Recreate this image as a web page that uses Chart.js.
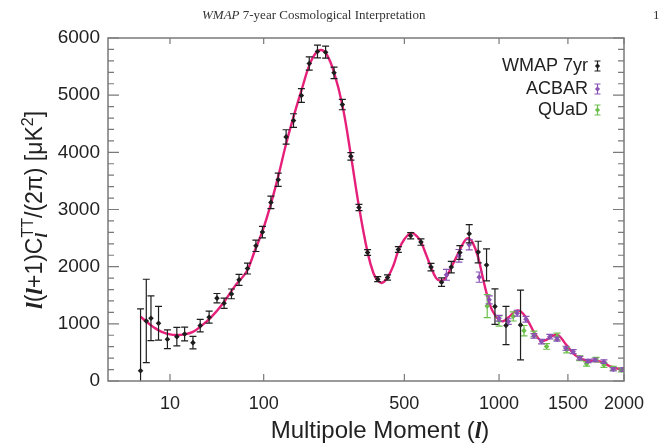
<!DOCTYPE html>
<html>
<head>
<meta charset="utf-8">
<script src="https://cdn.jsdelivr.net/npm/chart.js@4.4.0/dist/chart.umd.min.js"></script>
<style>
  html, body { margin: 0; padding: 0; background: #ffffff; }
  #wrap { width: 660px; height: 444px; position: relative; }
</style>
</head>
<body>
<div id="wrap"><canvas id="c" width="660" height="444"></canvas></div>
<script>
// ---------------- data ----------------
const X_TICKS = [10, 100, 500, 1000, 1500, 2000];
const X_MIN = 0, X_MAX = 2000;
const Y_MIN = 0, Y_MAX = 6000;

const headerItalic = "WMAP";
const headerRest = " 7-year Cosmological Interpretation";
const pageMark = "1";

const seriesNames = ["WMAP 7yr", "ACBAR", "QUaD"];

const wmapL   = [2, 3, 4, 6, 9, 13, 17, 22, 27, 34, 41, 48, 56, 65, 76, 88, 98, 112, 125, 140, 155, 172, 190, 210, 231, 254, 278, 304, 330, 359, 395, 432, 475, 527, 573, 620, 672, 722, 768, 820, 872, 922, 974, 1045, 1143];
const wmapD   = [180, 1050, 1098, 1010, 730, 776, 823, 671, 969, 1116, 1449, 1361, 1524, 1769, 1967, 2365, 2605, 3124, 3521, 4270, 4555, 4993, 5554, 5764, 5752, 5391, 4835, 3930, 3036, 2248, 1782, 1810, 2300, 2540, 2430, 1992, 1729, 1992, 2248, 2575, 2255, 2030, 1302, 970, 981];
const wmapErr = [1080, 730, 390, 295, 165, 163, 120, 110, 110, 105, 82, 90, 85, 95, 95, 100, 100, 110, 115, 125, 120, 120, 115, 110, 105, 100, 90, 65, 55, 50, 45, 45, 50, 55, 55, 65, 75, 100, 120, 160, 190, 280, 310, 335, 610];

const acbarL   = [697, 763, 820, 878, 938, 1000, 1060, 1120, 1181, 1238, 1294, 1357, 1413, 1484, 1543, 1599, 1671, 1730, 1811, 1897, 1990];
const acbarD   = [1857, 2190, 2383, 1817, 1420, 1098, 1039, 1186, 1081, 788, 689, 776, 731, 573, 513, 400, 350, 368, 338, 205, 200];
const acbarErr = [95, 110, 90, 90, 70, 50, 50, 50, 50, 40, 40, 40, 35, 35, 35, 30, 30, 30, 30, 30, 30];

const quadL   = [926, 1000, 1093, 1167, 1238, 1332, 1413, 1490, 1599, 1657, 1740, 1811, 1897, 1976];
const quadD   = [1310, 1050, 1130, 881, 823, 605, 776, 543, 398, 300, 375, 280, 222, 193];
const quadErr = [200, 90, 80, 90, 50, 50, 60, 50, 40, 40, 40, 40, 35, 35];

const theoryL = [2,3,4,5,7,10,13,17,22,27,35,47,60,75,87,98,112,125,140,155,172,190,205,220,235,254,278,304,330,359,380,395,410,432,455,475,500,530,555,573,600,620,645,665,690,722,763,790,814,840,871,900,922,950,974,1000,1025,1060,1100,1125,1160,1200,1240,1290,1330,1370,1400,1430,1470,1510,1550,1600,1650,1700,1750,1800,1860,1920,2000];
const theoryD = [1125,1040,975,925,860,815,805,815,860,950,1100,1360,1660,1920,2300,2620,3100,3580,4150,4620,5080,5520,5730,5790,5700,5400,4830,3950,3050,2250,1880,1760,1715,1810,2020,2280,2480,2590,2530,2430,2180,1990,1800,1755,1790,1990,2260,2430,2500,2420,2170,1800,1536,1280,1156,1070,1045,1110,1205,1235,1180,1030,850,705,720,780,805,790,680,570,470,400,360,355,350,325,265,225,190];

// ---------------- styling ----------------
const COL_WMAP = '#1e1e1e';
const COL_ACBAR = '#8a52b4';
const COL_QUAD = '#6cbf4a';
const COL_CURVE = '#e6207a';
const COL_FRAME = '#7a7a7a';
const SANS = '"Liberation Sans", Arial, Helvetica, sans-serif';
const SERIF = '"Liberation Serif", "DejaVu Serif", serif';
const POW = 0.4;

// ---------------- custom power-law x scale (x ~ l^0.4) ----------------
const tf = v => Math.pow(Math.max(v, 0), POW);
const itf = t => Math.pow(Math.max(t, 0), 1 / POW);
class PowScale extends Chart.Scale {
  constructor(cfg) { super(cfg); this._startValue = 0; this._valueRange = 1; }
  parse(raw) { const v = +raw; return isFinite(v) ? v : null; }
  determineDataLimits() { this.min = this.options.min; this.max = this.options.max; }
  buildTicks() { return X_TICKS.map(v => ({ value: v })); }
  getLabelForValue(v) { return String(v); }
  configure() {
    super.configure();
    this._startValue = tf(this.min);
    this._valueRange = tf(this.max) - tf(this.min);
  }
  getPixelForValue(v) {
    if (v === undefined || v === null) v = this.min;
    return this.getPixelForDecimal((tf(v) - this._startValue) / this._valueRange);
  }
  getValueForPixel(p) {
    return itf(this._startValue + this.getDecimalForPixel(p) * this._valueRange);
  }
}
PowScale.id = 'pow';
PowScale.defaults = {};
Chart.register(PowScale);

const pts = (L, D) => L.map((l, i) => ({ x: l, y: D[i] }));

// ---------------- plugins ----------------
const errorBars = {
  id: 'errorBars',
  afterDatasetDraw(chart, args) {
    const ds = chart.data.datasets[args.index];
    if (!ds.err) return;
    const { ctx, chartArea: a, scales: { x, y } } = chart;
    ctx.save();
    ctx.beginPath();
    ctx.rect(a.left, a.top, a.right - a.left, a.bottom - a.top);
    ctx.clip();
    ctx.strokeStyle = ds.borderColor;
    ctx.lineWidth = 1.2;
    ds.data.forEach((p, i) => {
      const px = x.getPixelForValue(p.x);
      const y1 = y.getPixelForValue(p.y + ds.err[i]);
      const y0 = y.getPixelForValue(p.y - ds.err[i]);
      ctx.beginPath();
      ctx.moveTo(px, y0); ctx.lineTo(px, y1);
      ctx.moveTo(px - 3.5, y1); ctx.lineTo(px + 3.5, y1);
      if (p.y - ds.err[i] > Y_MIN) { ctx.moveTo(px - 3.5, y0); ctx.lineTo(px + 3.5, y0); }
      ctx.stroke();
    });
    ctx.restore();
  }
};

function drawRich(ctx, segs, x, y) {
  let w = 0;
  const widths = segs.map(s => { ctx.font = s.f; const m = ctx.measureText(s.t).width; return s.noAdvance ? 0 : m; });
  widths.forEach(v => w += v);
  let cx = x - w / 2;
  segs.forEach((s, i) => {
    ctx.font = s.f;
    ctx.fillText(s.t, cx + (s.dx || 0), y + (s.dy || 0));
    cx += widths[i];
  });
}

const frame = {
  id: 'frame',
  afterDraw(chart) {
    const { ctx, chartArea: a, scales: { x, y } } = chart;
    ctx.save();
    ctx.strokeStyle = COL_FRAME;
    ctx.lineWidth = 1.5;
    ctx.strokeRect(a.left, a.top, a.right - a.left, a.bottom - a.top);
    ctx.lineWidth = 1.2;
    ctx.beginPath();
    for (let v = Y_MIN; v <= Y_MAX; v += 200) {
      const py = y.getPixelForValue(v);
      const len = (v % 1000 === 0) ? 11 : 6;
      ctx.moveTo(a.left, py); ctx.lineTo(a.left + len, py);
      ctx.moveTo(a.right, py); ctx.lineTo(a.right - len, py);
    }
    X_TICKS.forEach(v => {
      const px = x.getPixelForValue(v);
      ctx.moveTo(px, a.bottom); ctx.lineTo(px, a.bottom - 7);
      ctx.moveTo(px, a.top); ctx.lineTo(px, a.top + 6);
    });
    ctx.stroke();

    // legend
    ctx.textAlign = 'right';
    ctx.textBaseline = 'middle';
    ctx.font = '18px ' + SANS;
    const lx = 588, ix = 597.5, ly = [66, 89, 110];
    chart.data.datasets.filter(d => d.err).forEach((d, i) => {
      ctx.fillStyle = '#222';
      ctx.fillText(d.label, lx, ly[i]);
      ctx.strokeStyle = d.borderColor;
      ctx.fillStyle = d.borderColor;
      ctx.lineWidth = 1.2;
      ctx.beginPath();
      ctx.moveTo(ix, ly[i] - 5); ctx.lineTo(ix, ly[i] + 5);
      ctx.moveTo(ix - 3, ly[i] - 5); ctx.lineTo(ix + 3, ly[i] - 5);
      ctx.moveTo(ix - 3, ly[i] + 5); ctx.lineTo(ix + 3, ly[i] + 5);
      ctx.stroke();
      ctx.beginPath();
      ctx.moveTo(ix, ly[i] - 2.6); ctx.lineTo(ix + 2.6, ly[i]); ctx.lineTo(ix, ly[i] + 2.6); ctx.lineTo(ix - 2.6, ly[i]);
      ctx.closePath(); ctx.fill();
    });

    // header
    ctx.fillStyle = '#333';
    ctx.textAlign = 'left';
    ctx.textBaseline = 'alphabetic';
    ctx.font = 'italic 13px ' + SERIF;
    ctx.fillText(headerItalic, 202, 19);
    const hw = ctx.measureText(headerItalic).width;
    ctx.font = '13px ' + SERIF;
    ctx.fillText(headerRest, 202 + hw, 19);
    ctx.fillText(pageMark, 653, 19);

    // x title
    ctx.fillStyle = '#222';
    ctx.textBaseline = 'alphabetic';
    ctx.textAlign = 'left';
    drawRich(ctx, [
      { t: 'Multipole Moment (', f: '24px ' + SANS },
      { t: 'l', f: 'bold italic 24px ' + SERIF },
      { t: ')', f: '24px ' + SANS }
    ], 380, 438);

    // y title (rotated)
    ctx.save();
    ctx.translate(42, 210);
    ctx.rotate(-Math.PI / 2);
    const big = '23px ' + SANS, lit = 'bold italic 24px ' + SERIF, small = '16px ' + SANS, smallL = 'bold italic 16px ' + SERIF;
    drawRich(ctx, [
      { t: 'l', f: lit },
      { t: '(', f: big },
      { t: 'l', f: lit },
      { t: '+1)C', f: big },
      { t: 'l', f: smallL, dy: 5, noAdvance: true },
      { t: 'TT', f: small, dy: -9 },
      { t: '/(2\u03C0) [\u03BCK', f: big },
      { t: '2', f: small, dy: -9 },
      { t: ']', f: big }
    ], 0, 0);
    ctx.restore();
    ctx.restore();
  }
};

// ---------------- chart ----------------
const ctx = document.getElementById('c').getContext('2d');
new Chart(ctx, {
  type: 'scatter',
  data: {
    datasets: [
      { label: seriesNames[0], data: pts(wmapL, wmapD), err: wmapErr, borderColor: COL_WMAP, backgroundColor: COL_WMAP,
        pointStyle: 'rectRot', pointRadius: 2.8, pointBorderWidth: 0, showLine: false },
      { label: seriesNames[1], data: pts(acbarL, acbarD), err: acbarErr, borderColor: COL_ACBAR, backgroundColor: COL_ACBAR,
        pointStyle: 'rectRot', pointRadius: 2.8, pointBorderWidth: 0, showLine: false },
      { label: seriesNames[2], data: pts(quadL, quadD), err: quadErr, borderColor: COL_QUAD, backgroundColor: COL_QUAD,
        pointStyle: 'rectRot', pointRadius: 2.8, pointBorderWidth: 0, showLine: false },
      { label: 'theory', data: pts(theoryL, theoryD), borderColor: COL_CURVE, backgroundColor: COL_CURVE,
        showLine: true, pointRadius: 0, borderWidth: 2.4, tension: 0.4 }
    ]
  },
  options: {
    responsive: false,
    animation: false,
    devicePixelRatio: 1,
    layout: { padding: { top: 38, right: 36, left: 0, bottom: 0 } },
    plugins: { legend: { display: false }, tooltip: { enabled: false }, title: { display: false } },
    scales: {
      x: {
        type: 'pow', position: 'bottom', min: X_MIN, max: X_MAX,
        grid: { display: false, drawTicks: false },
        border: { display: false },
        ticks: { autoSkip: false, maxRotation: 0, padding: 12, color: '#222', font: { family: SANS, size: 18 },
                 callback: v => String(v) },
        afterFit(s) { s.height = 63; }
      },
      y: {
        type: 'linear', min: Y_MIN, max: Y_MAX,
        grid: { display: false, drawTicks: false },
        border: { display: false },
        ticks: { stepSize: 1000, padding: 8, color: '#222', font: { family: SANS, size: 19 },
                 callback: v => String(v) },
        afterFit(s) { s.width = 108; }
      }
    }
  },
  plugins: [errorBars, frame]
});
</script>
</body>
</html>
